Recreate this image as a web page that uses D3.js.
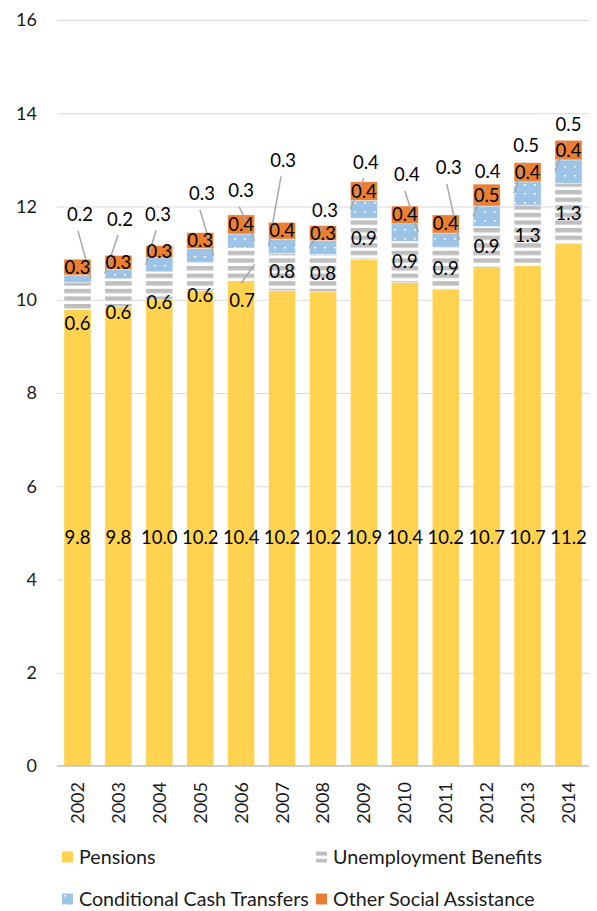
<!DOCTYPE html>
<html><head><meta charset="utf-8">
<script src="https://cdn.jsdelivr.net/npm/d3@7"></script>
<style>
body{margin:0;background:#fff;}
svg{display:block;font-family:Lato,"Open Sans",sans-serif;}
</style>
</head><body>
<svg id="chart" width="597" height="911"></svg>
<script>
// ---------- data ----------
const years = ["2002","2003","2004","2005","2006","2007","2008","2009","2010","2011","2012","2013","2014"];
const pensions       = [9.79, 9.85, 10.0, 10.2, 10.41, 10.2, 10.17, 10.87, 10.37, 10.23, 10.71, 10.73, 11.2];
const unemployment   = [0.58, 0.6, 0.6, 0.6, 0.7, 0.8, 0.8, 0.88, 0.88, 0.9, 0.86, 1.3, 1.3];
const cashTransfers  = [0.16, 0.2, 0.3, 0.3, 0.3, 0.3, 0.3, 0.38, 0.38, 0.3, 0.44, 0.5, 0.5];
const otherAssist    = [0.34, 0.3, 0.26, 0.34, 0.41, 0.36, 0.32, 0.4, 0.38, 0.39, 0.47, 0.41, 0.42];
const yTicks = [0, 2, 4, 6, 8, 10, 12, 14, 16];
const seriesNames = ["Pensions", "Unemployment Benefits", "Conditional Cash Transfers", "Other Social Assistance"];

// label layout (annotation placement, value units / px offsets)
const cctLabelY   = [11.82, 11.73, 11.83, 12.27, 12.34, 12.99, 11.92, 12.95, 12.68, 12.83, 12.76, 13.30, 13.75];
const cctLabelDx  = [2.5, 1.6, -1.3, 1.7, 0, 1, 2, 2, 2, 3, 1, -1.5, 0];
const cctLeaderSide = [1, -1, -1, 1, 1, -1, -1, -1, 1, 1, -1, -1, -1];
const unempLabelY = [9.50, 9.72, 9.95, 10.10, 9.99, null, null, null, null, null, null, null, null];
const unempLeader = [false, false, false, false, true, false, false, false, false, false, false, false, false];
const pensionLabelY = 4.91;

// ---------- setup ----------
const svg = d3.select("#chart");
const x = d3.scaleBand().domain(years).range([57, 589]).paddingInner(0.34).paddingOuter(0.171);
const y = d3.scaleLinear().domain([0, 16]).range([766, 20]);

const colors = { pen: "#FFD34F", unemp: "#BFBFBF", cct: "#9DC3E6", oth: "#ED7D31" };

const defs = svg.append("defs");
const pu = defs.append("pattern").attr("id", "pUnemp").attr("patternUnits", "userSpaceOnUse")
  .attr("width", 8).attr("height", 7.6);
pu.append("rect").attr("width", 8).attr("height", 7.6).attr("fill", "#fff");
pu.append("rect").attr("y", 0).attr("width", 8).attr("height", 4.4).attr("fill", colors.unemp);

const pc = defs.append("pattern").attr("id", "pCct").attr("patternUnits", "userSpaceOnUse")
  .attr("width", 10).attr("height", 9);
pc.append("rect").attr("width", 10).attr("height", 9).attr("fill", colors.cct);
pc.append("rect").attr("x", 4).attr("y", 4).attr("width", 2).attr("height", 1.5).attr("fill", "#fff");

const fills = [colors.pen, "url(#pUnemp)", "url(#pCct)", colors.oth];

// ---------- gridlines ----------
svg.append("g").selectAll("line").data(yTicks.filter(d => d > 0)).join("line")
  .attr("x1", 57).attr("x2", 589)
  .attr("y1", d => y(d) + 0.5).attr("y2", d => y(d) + 0.5)
  .attr("stroke", "#D9D9D9").attr("stroke-width", 1);

// ---------- stacked bars ----------
const rows = years.map((yr, i) => ({ year: yr, i, vals: [pensions[i], unemployment[i], cashTransfers[i], otherAssist[i]] }));
const stack = d3.stack().keys([0, 1, 2, 3]).value((d, k) => d.vals[k]);
const stacked = stack(rows);

const barsG = svg.append("g");
stacked.forEach((layer, k) => {
  barsG.append("g").selectAll("rect").data(layer).join("rect")
    .attr("x", d => x(d.data.year))
    .attr("width", x.bandwidth())
    .attr("y", d => y(d[1]))
    .attr("height", d => y(d[0]) - y(d[1]))
    .attr("fill", fills[k])
    .attr("stroke", "#fff").attr("stroke-width", 0.6).attr("stroke-opacity", 0.7);
});

// axis line at zero
svg.append("line").attr("x1", 57).attr("x2", 589).attr("y1", y(0)).attr("y2", y(0))
  .attr("stroke", "#BFBFBF").attr("stroke-width", 1.5);

// ---------- axes ----------
const yAxis = svg.append("g").attr("transform", "translate(57,0)")
  .call(d3.axisLeft(y).tickValues(yTicks).tickSize(0).tickPadding(20).tickFormat(d3.format("d")));
yAxis.select(".domain").remove();
yAxis.selectAll("text").attr("font-size", 18).attr("fill", "#1a1a1a").attr("font-family", "Lato, 'Open Sans', sans-serif");

const xAxis = svg.append("g").attr("transform", `translate(0,${y(0)})`)
  .call(d3.axisBottom(x).tickSize(0));
xAxis.select(".domain").remove();
xAxis.selectAll("text")
  .attr("transform", "rotate(-90)")
  .attr("x", -16).attr("y", 0).attr("dy", "0.36em")
  .attr("text-anchor", "end")
  .attr("font-size", 18).attr("fill", "#1a1a1a").attr("font-family", "Lato, 'Open Sans', sans-serif");

// ---------- data labels ----------
const fmt = d3.format(".1f");
const lab = svg.append("g").attr("font-size", 18.5).attr("fill", "#000");
const cx = i => x(years[i]) + x.bandwidth() / 2;
const leaderColor = "#A6A6A6";

rows.forEach((r, i) => {
  const s1 = stacked[1][i], s2 = stacked[2][i], s3 = stacked[3][i];
  // pensions
  lab.append("text").attr("x", cx(i)).attr("y", y(pensionLabelY)).attr("dy", "0.35em")
    .attr("text-anchor", "middle").text(fmt(pensions[i]));
  // unemployment
  const uy = unempLabelY[i] != null ? y(unempLabelY[i]) : y((s1[0] + s1[1]) / 2);
  if (unempLeader[i]) {
    lab.append("line").attr("x1", cx(i)).attr("y1", uy - 17)
      .attr("x2", cx(i) + x.bandwidth() / 2).attr("y2", y((s1[0] + s1[1]) / 2))
      .attr("stroke", leaderColor).attr("stroke-width", 1.5);
  }
  lab.append("text").attr("x", cx(i) + (unempLeader[i] ? 1 : 0)).attr("y", uy).attr("dy", "0.35em")
    .attr("text-anchor", "middle").text(fmt(unemployment[i]));
  // cash transfers (outside with leader)
  const lx = cx(i) + cctLabelDx[i], ly = y(cctLabelY[i]);
  lab.append("line").attr("x1", lx - 2).attr("y1", ly + 16)
    .attr("x2", cx(i) + cctLeaderSide[i] * x.bandwidth() / 2).attr("y2", y((s2[0] + s2[1]) / 2))
    .attr("stroke", leaderColor).attr("stroke-width", 1.5);
  lab.append("text").attr("x", lx).attr("y", ly).attr("dy", "0.35em")
    .attr("text-anchor", "middle").text(fmt(cashTransfers[i]));
  // other social assistance
  lab.append("text").attr("x", cx(i)).attr("y", y((s3[0] + s3[1]) / 2)).attr("dy", "0.35em")
    .attr("text-anchor", "middle").text(fmt(otherAssist[i]));
});

// ---------- legend ----------
const legendPos = [[62, 857], [316, 857], [62, 899], [316, 899]];
const leg = svg.append("g").attr("font-size", 19.7).attr("fill", "#1a1a1a");
seriesNames.forEach((name, k) => {
  const [lxp, lyp] = legendPos[k];
  leg.append("rect").attr("x", lxp).attr("y", lyp - 5.5).attr("width", 11).attr("height", 11).attr("fill", fills[k]);
  leg.append("text").attr("x", lxp + 17).attr("y", lyp).attr("dy", "0.35em").text(name);
});
</script>
</body></html>
